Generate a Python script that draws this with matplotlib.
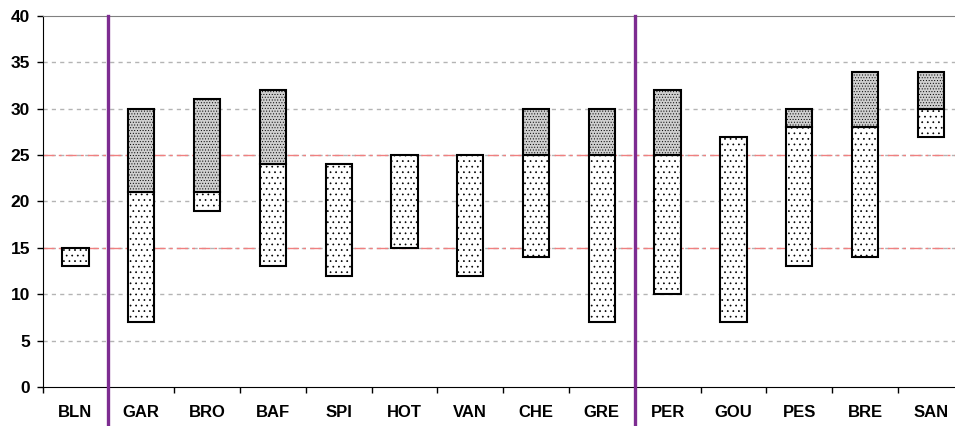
import matplotlib.pyplot as plt
import numpy as np

plt.rcParams['font.family'] = ['Liberation Sans', 'DejaVu Sans']
plt.rcParams['hatch.color'] = 'black'

# categories and ranges (low, mid, high); mid == high means no upper part
names = ['BLN', 'GAR', 'BRO', 'BAF', 'SPI', 'HOT', 'VAN',
         'CHE', 'GRE', 'PER', 'GOU', 'PES', 'BRE', 'SAN']
low = [13, 7, 19, 13, 12, 15, 12, 14, 7, 10, 7, 13, 14, 27]
mid = [15, 21, 21, 24, 24, 25, 25, 25, 25, 25, 27, 28, 28, 30]
high = [15, 30, 31, 32, 24, 25, 25, 30, 30, 32, 27, 30, 34, 34]
group_breaks = [0.5, 8.5]
ref_levels = [15, 25]

low = np.array(low)
mid = np.array(mid)
high = np.array(high)
x = np.arange(len(names))

fig = plt.figure(figsize=(9.55, 4.26), dpi=100)
ax = fig.add_axes([0.0446, 0.0915, 0.9645, 0.871])

# grid
for y in range(5, 40, 5):
    ax.axhline(y, color='#b4b4b4', linestyle=(0, (3, 3)), linewidth=1, zorder=0)
for y in ref_levels:
    ax.axhline(y, color='#f08080', linestyle=(0, (8, 3, 2, 3)), linewidth=1, zorder=0.5)

w = 0.4
plt.rcParams['hatch.linewidth'] = 0.5
ax.bar(x, mid - low, bottom=low, width=w, facecolor='white', edgecolor='black',
       linewidth=1.5, hatch='...', zorder=2)
top = high - mid
plt.rcParams['hatch.linewidth'] = 0.4
ax.bar(x[top > 0], top[top > 0], bottom=mid[top > 0], width=w, facecolor='#cfcfcf',
       edgecolor='black', linewidth=1.5, hatch='......', zorder=2)

for b in group_breaks:
    ax.axvline(b, ymin=-0.11, ymax=1, color='#7d2c91', linewidth=2.4,
               clip_on=False, zorder=3)

ax.set_xlim(-0.5, len(names) - 0.5)
ax.set_ylim(0, 40)
ax.set_yticks(range(0, 45, 5))
ax.set_xticks(x)
ax.set_xticklabels(names, fontsize=12, fontweight='bold')
ax.set_xticks(np.arange(len(names)) - 0.5, minor=True)
ax.tick_params(axis='x', which='major', length=0, pad=13)
ax.tick_params(axis='x', which='minor', length=4, width=1, direction='out')
ax.tick_params(axis='y', length=4, width=1, pad=5, labelsize=12.5)
for t in ax.get_yticklabels():
    t.set_fontweight('bold')

ax.spines['left'].set_color('black')
ax.spines['bottom'].set_color('black')
ax.spines['top'].set_color('#808080')
ax.spines['right'].set_visible(False)

fig.savefig('out.png', dpi=100)
